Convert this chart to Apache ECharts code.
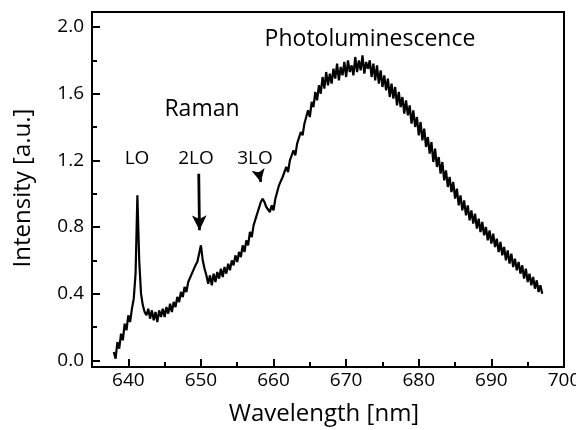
<!DOCTYPE html>
<html><head><meta charset="utf-8">
<script src="https://cdn.jsdelivr.net/npm/echarts@6/dist/echarts.min.js"></script>
<style>html,body{margin:0;padding:0;background:#fff}#c{width:576px;height:430px}</style>
</head><body><div id="c"></div>
<script>
const wavelength = [
638.00,638.25,638.50,638.75,639.00,639.25,639.50,639.75,
640.00,640.25,640.50,640.75,641.00,641.25,641.50,641.75,
642.00,642.25,642.50,642.75,643.00,643.25,643.50,643.75,
644.00,644.25,644.50,644.75,645.00,645.25,645.50,645.75,
646.00,646.25,646.50,646.75,647.00,647.25,647.50,647.75,
648.00,648.25,648.50,648.75,649.00,649.25,649.50,649.75,
650.00,650.25,650.50,650.75,651.00,651.25,651.50,651.75,
652.00,652.25,652.50,652.75,653.00,653.25,653.50,653.75,
654.00,654.25,654.50,654.75,655.00,655.25,655.50,655.75,
656.00,656.25,656.50,656.75,657.00,657.25,657.50,657.75,
658.00,658.25,658.50,658.75,659.00,659.25,659.50,659.75,
660.00,660.25,660.50,660.75,661.00,661.25,661.50,661.75,
662.00,662.25,662.50,662.75,663.00,663.25,663.50,663.75,
664.00,664.25,664.50,664.75,665.00,665.25,665.50,665.75,
666.00,666.25,666.50,666.75,667.00,667.25,667.50,667.75,
668.00,668.25,668.50,668.75,669.00,669.25,669.50,669.75,
670.00,670.25,670.50,670.75,671.00,671.25,671.50,671.75,
672.00,672.25,672.50,672.75,673.00,673.25,673.50,673.75,
674.00,674.25,674.50,674.75,675.00,675.25,675.50,675.75,
676.00,676.25,676.50,676.75,677.00,677.25,677.50,677.75,
678.00,678.25,678.50,678.75,679.00,679.25,679.50,679.75,
680.00,680.25,680.50,680.75,681.00,681.25,681.50,681.75,
682.00,682.25,682.50,682.75,683.00,683.25,683.50,683.75,
684.00,684.25,684.50,684.75,685.00,685.25,685.50,685.75,
686.00,686.25,686.50,686.75,687.00,687.25,687.50,687.75,
688.00,688.25,688.50,688.75,689.00,689.25,689.50,689.75,
690.00,690.25,690.50,690.75,691.00,691.25,691.50,691.75,
692.00,692.25,692.50,692.75,693.00,693.25,693.50,693.75,
694.00,694.25,694.50,694.75,695.00,695.25,695.50,695.75,
696.00,696.25,696.50,696.75,697.00
];
const intensity = [
0.05,0.01,0.11,0.07,0.16,0.12,0.22,0.18,
0.27,0.23,0.31,0.37,0.52,0.99,0.60,0.40,
0.33,0.29,0.27,0.31,0.25,0.30,0.24,0.29,
0.23,0.30,0.26,0.31,0.26,0.32,0.28,0.34,
0.29,0.35,0.32,0.38,0.35,0.41,0.38,0.44,
0.41,0.47,0.46,0.52,0.51,0.57,0.59,0.64,
0.69,0.60,0.55,0.51,0.46,0.51,0.45,0.52,
0.47,0.53,0.49,0.55,0.50,0.56,0.52,0.58,
0.54,0.60,0.57,0.63,0.59,0.65,0.62,0.69,
0.65,0.72,0.69,0.77,0.74,0.81,0.81,0.88,
0.87,0.95,0.97,0.95,0.92,0.91,0.89,0.93,
0.90,0.97,0.98,1.05,1.05,1.10,1.11,1.16,
1.13,1.20,1.19,1.26,1.23,1.30,1.30,1.37,
1.35,1.42,1.41,1.50,1.46,1.55,1.52,1.61,
1.56,1.65,1.60,1.70,1.63,1.73,1.65,1.72,
1.66,1.75,1.69,1.78,1.68,1.76,1.71,1.79,
1.70,1.80,1.73,1.77,1.71,1.82,1.73,1.80,
1.74,1.83,1.72,1.79,1.75,1.80,1.70,1.78,
1.68,1.77,1.66,1.74,1.64,1.71,1.62,1.69,
1.58,1.66,1.57,1.64,1.53,1.61,1.52,1.58,
1.48,1.56,1.47,1.53,1.42,1.50,1.40,1.46,
1.35,1.43,1.32,1.39,1.28,1.34,1.24,1.31,
1.19,1.27,1.16,1.22,1.12,1.19,1.08,1.14,
1.04,1.10,1.01,1.07,0.97,1.03,0.93,0.99,
0.90,0.96,0.87,0.93,0.84,0.90,0.82,0.88,
0.79,0.85,0.77,0.83,0.75,0.80,0.72,0.78,
0.70,0.76,0.68,0.73,0.65,0.71,0.63,0.68,
0.60,0.66,0.58,0.64,0.56,0.61,0.54,0.59,
0.52,0.57,0.49,0.55,0.47,0.52,0.45,0.50,
0.43,0.48,0.41,0.45,0.40
];
const xMajorTicks = [640, 650, 660, 670, 680, 690, 700];
const xMinorTicks = [645, 655, 665, 675, 685, 695];
const yMajorTicks = [0, 0.4, 0.8, 1.2, 1.6, 2.0];
const yMinorTicks = [0.2, 0.6, 1.0, 1.4, 1.8];
const xTitle = 'Wavelength [nm]';
const yTitle = 'Intensity [a.u.]';
const labelTexts = ['Photoluminescence', 'Raman', 'LO', '2LO', '3LO'];
const arrow2LO = [[649.7, 1.12], [649.8, 0.78]];
const arrow3LO = [[657.95, 1.13], [658.25, 1.07]];

const FONT = "'Open Sans', sans-serif";
const chart = echarts.init(document.getElementById('c'), null, {renderer: 'canvas'});
const black = '#000';

function baseX(ticks, len, showLine, showLabel) {
  return {
    type: 'value', min: 635, max: 700, position: 'bottom',
    axisLine: {show: showLine, onZero: false, lineStyle: {color: black, width: 2}},
    axisTick: {show: true, inside: true, length: len, customValues: ticks, lineStyle: {color: black, width: 2}},
    axisLabel: {show: showLabel, customValues: ticks, color: black, fontSize: 19, fontFamily: FONT, margin: 4},
    splitLine: {show: false}
  };
}
function baseY(ticks, len, showLine, showLabel) {
  return {
    type: 'value', min: -0.04, max: 2.09, position: 'left',
    axisLine: {show: showLine, onZero: false, lineStyle: {color: black, width: 2}},
    axisTick: {show: true, inside: true, length: len, customValues: ticks, lineStyle: {color: black, width: 2}},
    axisLabel: {show: showLabel, customValues: ticks, color: black, fontSize: 19, fontFamily: FONT, margin: 8,
      formatter: v => Number(v).toFixed(1)},
    splitLine: {show: false}
  };
}

const option = {
  animation: false,
  backgroundColor: '#fff',
  grid: {left: 92, right: 12, top: 12, bottom: 63, show: true, borderColor: black, borderWidth: 2,
    backgroundColor: 'transparent', containLabel: false, outerBoundsMode: 'none'},
  xAxis: [baseX(xMajorTicks, 8, true, true), baseX(xMinorTicks, 5, false, false)],
  yAxis: [baseY(yMajorTicks, 8, true, true), baseY(yMinorTicks, 5, false, false)],
  series: [{
    type: 'line',
    data: wavelength.map((w, i) => [w, intensity[i]]),
    showSymbol: false, symbol: 'none',
    lineStyle: {color: black, width: 2.2},
    emphasis: {disabled: true},
    markLine: {
      silent: true, animation: false,
      symbol: ['none', 'arrow'],
      label: {show: false},
      emphasis: {disabled: true},
      lineStyle: {color: black, width: 2.8, type: 'solid'},
      data: [
        [{coord: arrow2LO[0], symbolSize: [11, 15]}, {coord: arrow2LO[1], symbolSize: [11, 15]}],
        [{coord: arrow3LO[0], symbolSize: [10, 13]}, {coord: arrow3LO[1], symbolSize: [10, 13]}]
      ]
    }
  }],
  graphic: [
    {type: 'text', x: 370, y: 39, style: {text: labelTexts[0], fontSize: 23, fontFamily: FONT, fill: black, align: 'center', verticalAlign: 'middle'}},
    {type: 'text', x: 202, y: 109, style: {text: labelTexts[1], fontSize: 23, fontFamily: FONT, fill: black, align: 'center', verticalAlign: 'middle'}},
    {type: 'text', x: 137, y: 159, style: {text: labelTexts[2], fontSize: 19, fontFamily: FONT, fill: black, align: 'center', verticalAlign: 'middle'}},
    {type: 'text', x: 196, y: 159, style: {text: labelTexts[3], fontSize: 19, fontFamily: FONT, fill: black, align: 'center', verticalAlign: 'middle'}},
    {type: 'text', x: 255, y: 159, style: {text: labelTexts[4], fontSize: 19, fontFamily: FONT, fill: black, align: 'center', verticalAlign: 'middle'}},
    {type: 'text', x: 324, y: 414, style: {text: xTitle, fontSize: 24, fontFamily: FONT, fill: black, align: 'center', verticalAlign: 'middle'}},
    {type: 'text', x: 23, y: 188, rotation: Math.PI / 2, style: {text: yTitle, fontSize: 24, fontFamily: FONT, fill: black, align: 'center', verticalAlign: 'middle'}}
  ]
};
chart.setOption(option);
</script>
</body></html>
